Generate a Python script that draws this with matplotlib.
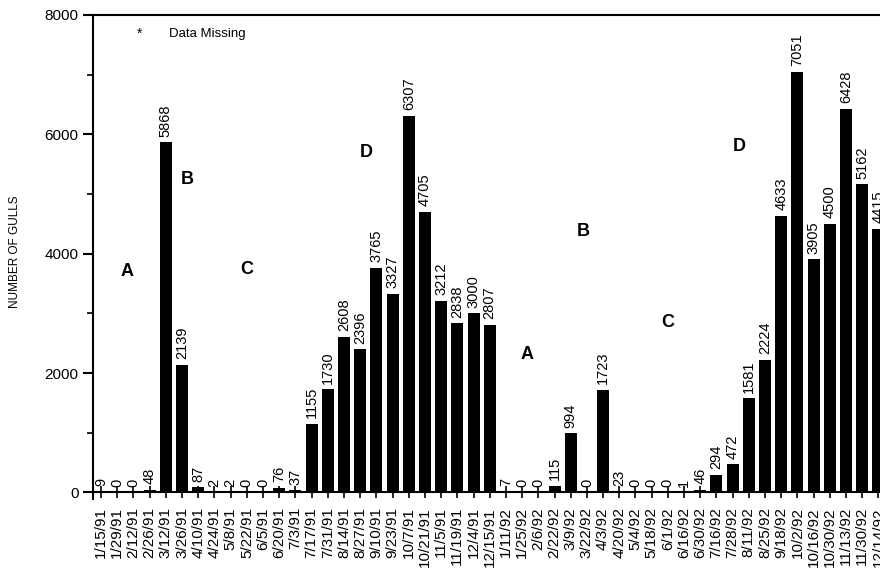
import matplotlib
matplotlib.use('Agg')
import matplotlib.pyplot as plt
from matplotlib.ticker import MultipleLocator

plt.rcParams['font.family'] = ['Liberation Sans', 'DejaVu Sans']

# Survey dates
dates = ['1/15/91', '1/29/91', '2/12/91', '2/26/91', '3/12/91', '3/26/91', '4/10/91',
         '4/24/91', '5/8/91', '5/22/91', '6/5/91', '6/20/91', '7/3/91', '7/17/91',
         '7/31/91', '8/14/91', '8/27/91', '9/10/91', '9/23/91', '10/7/91', '10/21/91',
         '11/5/91', '11/19/91', '12/4/91', '12/15/91',
         '1/11/92', '1/25/92', '2/6/92', '2/22/92', '3/9/92', '3/22/92', '4/3/92',
         '4/20/92', '5/4/92', '5/18/92', '6/1/92', '6/16/92', '6/30/92', '7/16/92',
         '7/28/92', '8/11/92', '8/25/92', '9/18/92', '10/2/92', '10/16/92', '10/30/92',
         '11/13/92', '11/30/92', '12/14/92']

# gull counts
gulls = [9, 0, 0, 48, 5868, 2139, 87, 2, 2, 0, 0, 76, 37, 1155, 1730, 2608, 2396,
         3765, 3327, 6307, 4705, 3212, 2838, 3000, 2807,
         7, 0, 0, 115, 994, 0, 1723, 23, 0, 0, 0, 1, 46, 294, 472, 1581, 2224,
         4633, 7051, 3905, 4500, 6428, 5162, 4415]

# period letters and where they sit (x index, y value)
period_labels = ['A', 'B', 'C', 'D', 'A', 'B', 'C', 'D']
period_x = [1.6, 5.3, 9.0, 16.4, 26.3, 29.75, 35.0, 39.4]
period_y = [3700, 5240, 3730, 5690, 2310, 4370, 2845, 5790]

fig = plt.figure(figsize=(8.8, 5.72), dpi=100)
ax = fig.add_axes([0.1057, 0.1276, 0.8943, 0.8462])

x = list(range(len(dates)))
ax.bar(x, gulls, width=0.74, color='black')

# value labels above the bars
for xi, v in zip(x, gulls):
    ax.annotate(str(v), (xi, v), xytext=(0, 4), textcoords='offset points',
                rotation=90, ha='center', va='bottom', fontsize=10.5)

for lab, px, py in zip(period_labels, period_x, period_y):
    ax.text(px, py, lab, fontsize=13, fontweight='bold', ha='center', va='center')

ax.text(2.4, 7680, '*', fontsize=10, ha='center', va='center')
ax.text(4.2, 7680, 'Data Missing', fontsize=9.5, ha='left', va='center')

ax.set_xlim(-0.5, 48.1)
ax.set_ylim(-110, 8000)
ax.spines['right'].set_visible(False)
ax.spines['bottom'].set_position(('data', 0))
for s in ['left', 'top', 'bottom']:
    ax.spines[s].set_linewidth(1.5)

ax.set_xticks(x)
ax.set_xticklabels(dates, rotation=90, fontsize=11)
ax.tick_params(axis='x', direction='inout', length=9, width=1.2, pad=6)
ax.set_yticks([0, 2000, 4000, 6000, 8000])
ax.yaxis.set_minor_locator(MultipleLocator(1000))
ax.tick_params(axis='y', which='major', direction='out', length=7, width=1.5, labelsize=11)
ax.tick_params(axis='y', which='minor', direction='out', length=4, width=1.2)

# y axis title
fig.text(15 / 880, 1 - 252 / 572, 'NUMBER OF GULLS', rotation=90,
         ha='center', va='center', fontsize=8.5)

fig.savefig('out.png', dpi=100)
